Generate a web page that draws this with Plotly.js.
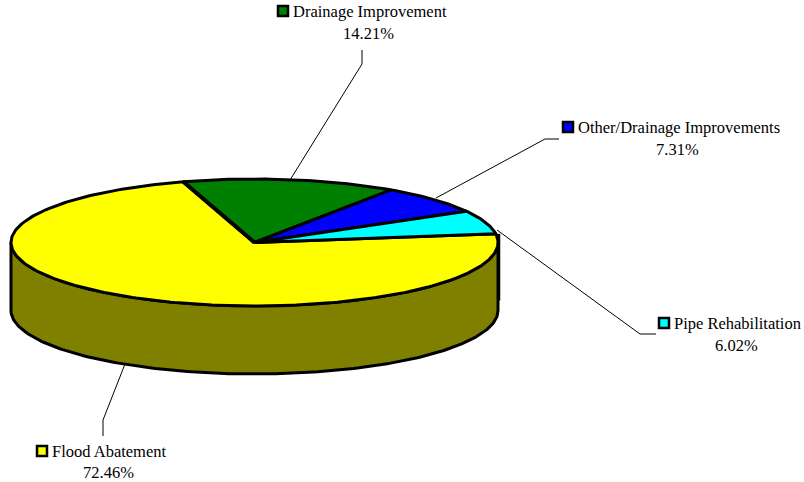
<!DOCTYPE html>
<html><head><meta charset="utf-8">
<script src="https://cdn.plot.ly/plotly-3.0.0.min.js"></script>
<style>html,body{margin:0;padding:0;background:#fff}</style></head>
<body><div id="chart" style="width:804px;height:482px"></div>
<script>
// Data
const categories = ["Drainage Improvement","Other/Drainage Improvements","Pipe Rehabilitation","Flood Abatement"];
const shares = [14.21,7.31,6.02,72.46];
const sliceColors = ["#008000","#0000ff","#00ffff","#ffff00"];
const sideColor = "#808000";
// Pie geometry, in axis units (axis spans the page's pixels)
const cx=254.5, cy=242.5, rx=243.5, ry=63.5, depth=68, startDeg=107;
const rad=d=>d*Math.PI/180;
const px=t=>cx+rx*Math.cos(rad(t));
const py=(t,o=0)=>cy+o-ry*Math.sin(rad(t));
function arc(a,b,o=0){const n=Math.max(2,Math.ceil(Math.abs(b-a))),X=[],Y=[];
  for(let i=0;i<=n;i++){const t=a+(b-a)*i/n;X.push(px(t));Y.push(py(t,o));}return [X,Y];}
// Slices run clockwise from startDeg
let cur=startDeg; const bounds=shares.map(v=>{const a=cur;cur-=v*3.6;return [a,cur];});
const traces=[];
const lw=3;
// Visible wall of the slab
const [wx1,wy1]=arc(180,360);
const [wx2,wy2]=arc(360,180,depth);
traces.push({type:'scatter',mode:'lines',x:[...wx1,...wx2,wx1[0]],y:[...wy1,...wy2,wy1[0]],
  fill:'toself',fillcolor:sideColor,line:{color:'#000',width:lw},hoverinfo:'skip'});
// Rear wall edge showing past the right rim
traces.push({type:'scatter',mode:'lines',x:[px(0)+1,px(0)+1],y:[py(bounds[2][1]),py(0,depth-10)],line:{color:'#000',width:2.5},hoverinfo:'skip'});
// Top slices
[3,0,1,2].forEach(i=>{const [a,b]=bounds[i];const [x,y]=arc(a,b);
  traces.push({type:'scatter',mode:'lines',x:[cx,...x,cx],y:[cy,...y,cy],fill:'toself',fillcolor:sliceColors[i],
    line:{color:'#000',width:lw,join:'miter'},hoverinfo:'skip',name:categories[i]});});
// Heavier edge between the first and last slices
traces.push({type:'scatter',mode:'lines',x:[cx,px(startDeg)],y:[cy,py(startDeg)],line:{color:'#000',width:4},hoverinfo:'skip'});
// Labels, keys and leader lines: placement per category
const nameX=[369.5,678.5,737,109.5], valueX=[368,677,736,108];
const nameY=[11,127,323,451], valueY=[33,149,345,472];
const keyX=[283,568,664,42];
const leaders=[[[362,50],[362,64],[290,180]],[[559,139],[545,139],[436,198]],[[656,334],[640,334],[497,230]],[[103,436],[103,420],[125,364]]];
const font={family:'"Liberation Serif","Times New Roman",serif',size:16.5,color:'#000'};
const annotations=[],shapes=[];
categories.forEach((c,i)=>{
  annotations.push({x:nameX[i],y:nameY[i],xref:'x',yref:'y',text:c,showarrow:false,font,xanchor:'center',yanchor:'middle'});
  annotations.push({x:valueX[i],y:valueY[i],xref:'x',yref:'y',text:shares[i].toFixed(2)+'%',showarrow:false,font,xanchor:'center',yanchor:'middle'});
  shapes.push({type:'rect',xref:'x',yref:'y',x0:keyX[i]-5,x1:keyX[i]+5,y0:nameY[i]-5,y1:nameY[i]+5,fillcolor:sliceColors[i],line:{color:'#000',width:2.5}});
  traces.unshift({type:'scatter',mode:'lines',x:leaders[i].map(p=>p[0]),y:leaders[i].map(p=>p[1]),line:{color:'#000',width:1},hoverinfo:'skip'});
});
Plotly.newPlot('chart',traces,{width:804,height:482,margin:{l:0,r:0,t:0,b:0},showlegend:false,paper_bgcolor:'#fff',plot_bgcolor:'#fff',hovermode:false,
  xaxis:{range:[0,804],visible:false,fixedrange:true},yaxis:{range:[482,0],visible:false,fixedrange:true},annotations,shapes},{staticPlot:true});
</script></body></html>
